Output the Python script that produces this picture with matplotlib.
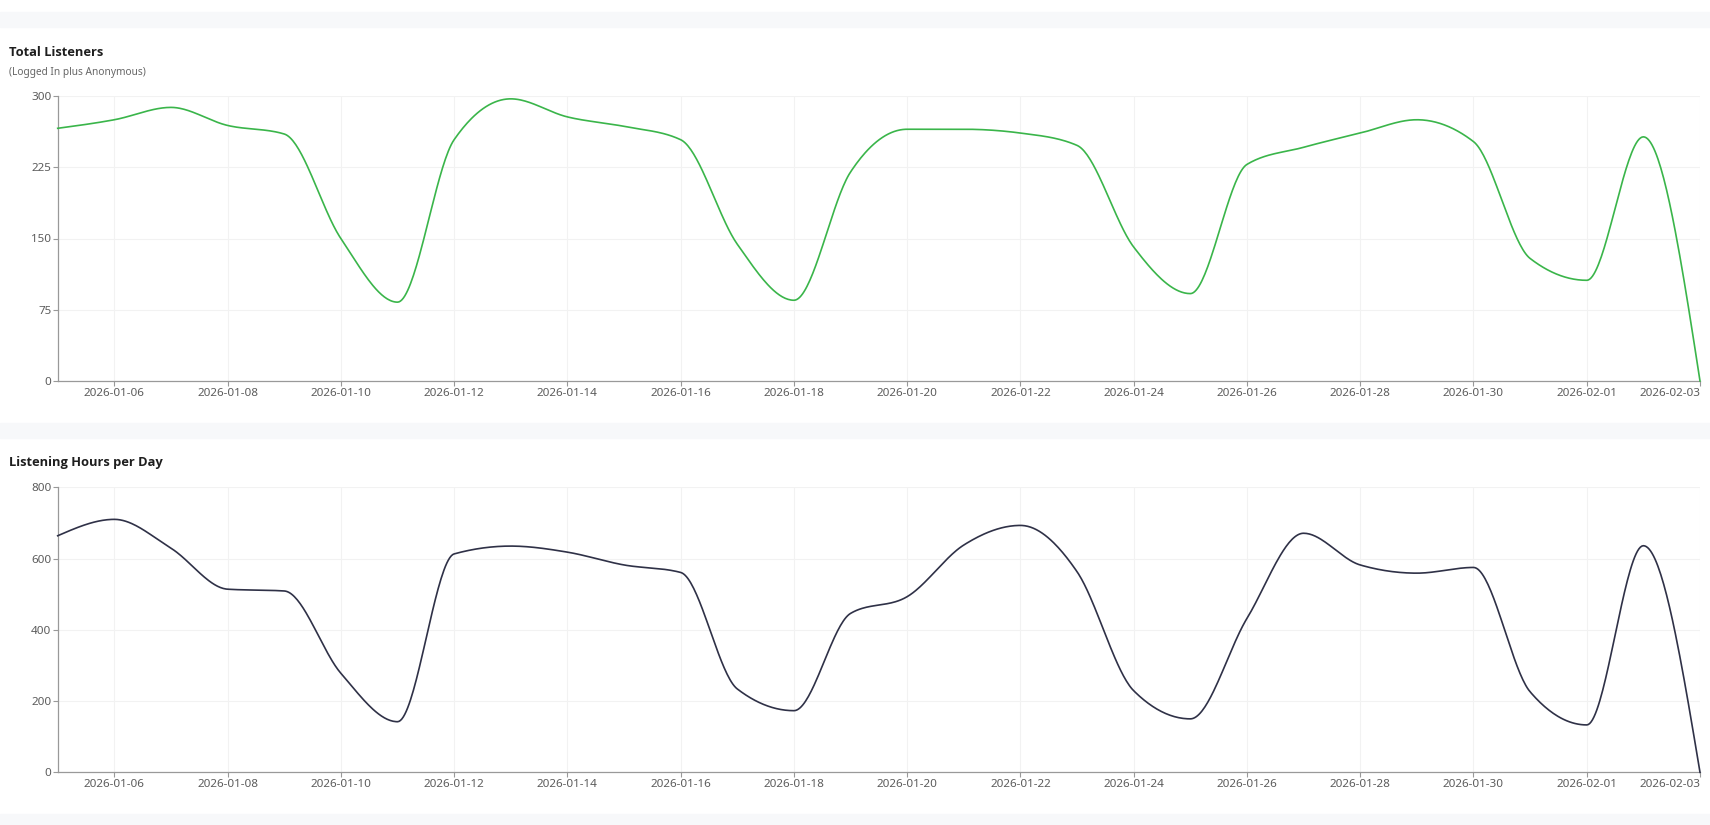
import numpy as np
import matplotlib
matplotlib.use("Agg")
import matplotlib.pyplot as plt
import matplotlib.dates as mdates
from matplotlib.patches import Rectangle

plt.rcParams['font.family'] = ['Noto Sans', 'DejaVu Sans']

# daily values, 2026-01-05 .. 2026-02-03
dates = np.arange(np.datetime64('2026-01-05'), np.datetime64('2026-02-04'))
listeners = [266, 275, 288, 269, 260, 150, 83, 254, 297, 278,
             268, 254, 144, 85, 220, 265, 265, 261, 248, 141,
             92, 228, 246, 261, 275, 252, 129, 106, 257, 0]
hours = [664, 710, 629, 514, 509, 278, 142, 613, 635, 618,
         582, 561, 234, 173, 446, 493, 638, 693, 563, 229,
         150, 432, 671, 582, 559, 575, 226, 133, 636, 0]

tick_dates = dates[1::2]
tick_labels = [str(d) for d in tick_dates]


def monotone_x(x, y, n=40):
    # d3 curveMonotoneX, sampled as cubic Bezier segments
    x = np.asarray(x, float)
    y = np.asarray(y, float)
    h = np.diff(x)
    s = np.diff(y) / h
    t = np.zeros_like(y)
    for i in range(1, len(x) - 1):
        s0, s1 = s[i - 1], s[i]
        p = (s0 * h[i] + s1 * h[i - 1]) / (h[i - 1] + h[i])
        t[i] = (np.sign(s0) + np.sign(s1)) * min(abs(s0), abs(s1), 0.5 * abs(p))
    t[0] = (3 * s[0] - t[1]) / 2
    t[-1] = (3 * s[-1] - t[-2]) / 2
    xs, ys = [], []
    u = np.linspace(0, 1, n)
    for i in range(len(x) - 1):
        dx = h[i] / 3
        px = [x[i], x[i] + dx, x[i + 1] - dx, x[i + 1]]
        py = [y[i], y[i] + dx * t[i], y[i + 1] - dx * t[i + 1], y[i + 1]]
        b = [(1 - u) ** 3, 3 * u * (1 - u) ** 2, 3 * u ** 2 * (1 - u), u ** 3]
        xs.append(sum(bb * pp for bb, pp in zip(b, px)))
        ys.append(sum(bb * pp for bb, pp in zip(b, py)))
    return np.concatenate(xs), np.concatenate(ys)


W, H = 1710, 825
fig = plt.figure(figsize=(W / 100, H / 100), dpi=100)
fig.patch.set_facecolor('white')

# light separator bands
for y0, y1 in [(12, 27), (423, 438), (814, 825)]:
    fig.patches.append(Rectangle((0, 1 - y1 / H), 1, (y1 - y0) / H,
                                 transform=fig.transFigure, color='#f7f8fa', zorder=0))

xnum = mdates.date2num(dates.astype('datetime64[D]').astype(object))
ticknum = mdates.date2num(tick_dates.astype('datetime64[D]').astype(object))


def panel(top, bottom, values, ymax, yticks, color):
    ax = fig.add_axes([57.7 / W, 1 - bottom / H, (1700 - 57.7) / W, (bottom - top) / H])
    sx, sy = monotone_x(xnum, values)
    ax.plot(sx, sy, color=color, lw=1.2, clip_on=False, zorder=3)
    ax.set_xlim(xnum[0], xnum[-1])
    ax.set_ylim(0, ymax)
    ax.set_xticks(ticknum)
    ax.set_xticklabels(tick_labels)
    ax.set_yticks(yticks)
    ax.set_yticklabels([str(v) for v in yticks])
    ax.grid(True, color='#f2f2f2', lw=0.8, zorder=0)
    for sp in ['top', 'right']:
        ax.spines[sp].set_visible(False)
    for sp in ['left', 'bottom']:
        ax.spines[sp].set_color('#999999')
        ax.spines[sp].set_linewidth(0.9)
    ax.tick_params(axis='both', colors='#999999', labelcolor='#5c5c5c',
                   labelsize=8.4, length=3.5, width=0.8, pad=1.5)
    ax.tick_params(axis='y', pad=1)
    labs = ax.get_xticklabels()
    labs[-1].set_horizontalalignment('right')
    return ax


panel(96, 381, listeners, 300, [0, 75, 150, 225, 300], '#3ab54a')
panel(487.3, 772.3, hours, 800, [0, 200, 400, 600, 800], '#2f3147')

title_font = ['Open Sans', 'Lato', 'DejaVu Sans']
fig.text(9 / W, 1 - 53 / H, 'Total Listeners', fontsize=9.3, fontweight='bold',
         family=title_font, color='#1e1e1e', va='center', ha='left')
fig.text(9 / W, 1 - 73 / H, '(Logged In plus Anonymous)', fontsize=7.3,
         color='#666666', va='center', ha='left')
fig.text(9 / W, 1 - 463 / H, 'Listening Hours per Day', fontsize=9.3, fontweight='bold',
         family=title_font, color='#1e1e1e', va='center', ha='left')

fig.savefig('out.png', dpi=100)
